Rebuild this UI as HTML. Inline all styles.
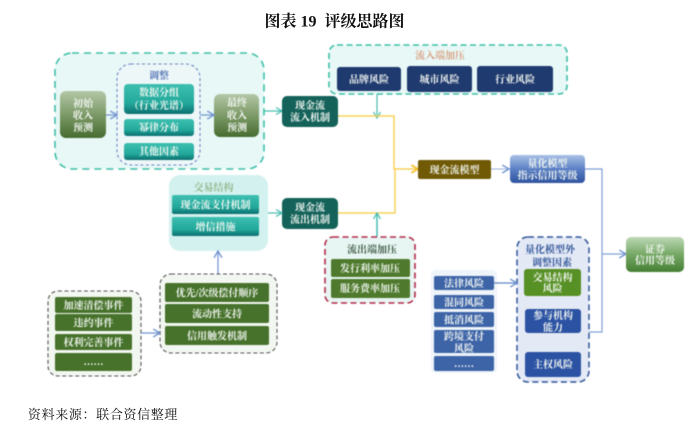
<!DOCTYPE html>
<html><head><meta charset="utf-8"><style>
html,body{margin:0;padding:0;background:#fff;width:700px;height:432px;overflow:hidden}
svg{display:block;position:absolute;left:0;top:0}
text{font-family:"Liberation Serif","Noto Serif CJK SC",serif;text-anchor:middle;font-size:10px;font-weight:700;fill:#f2f7f2}
.d{filter:blur(.45px)}
.k{fill:#111}
</style></head><body>
<svg width="700" height="432" viewBox="0 0 700 432" xmlns="http://www.w3.org/2000/svg">
<defs>
<linearGradient id="teal" x1="0" y1="0" x2="0" y2="1"><stop offset="0" stop-color="#3dbfb0"/><stop offset=".65" stop-color="#22a89b"/><stop offset="1" stop-color="#0b6f70"/></linearGradient>
<linearGradient id="olive" x1="0" y1="0" x2="0" y2="1"><stop offset="0" stop-color="#b3c7a6"/><stop offset=".5" stop-color="#7d9a68"/><stop offset="1" stop-color="#466c30"/></linearGradient>
<linearGradient id="blue" x1="0" y1="0" x2="0" y2="1"><stop offset="0" stop-color="#a9c1e6"/><stop offset=".5" stop-color="#5b80c4"/><stop offset="1" stop-color="#2f539f"/></linearGradient>
<linearGradient id="green" x1="0" y1="0" x2="0" y2="1"><stop offset="0" stop-color="#bcd8b6"/><stop offset=".5" stop-color="#76a865"/><stop offset="1" stop-color="#457f33"/></linearGradient>
<marker id="aT" viewBox="0 0 8 8" refX="7" refY="4" markerWidth="8" markerHeight="8" orient="auto" markerUnits="userSpaceOnUse"><path d="M1 .5L7 4L1 7.5" fill="none" stroke="#45bdb0" stroke-width="1.2"/></marker>
<marker id="aB" viewBox="0 0 8 8" refX="7" refY="4" markerWidth="9" markerHeight="9" orient="auto" markerUnits="userSpaceOnUse"><path d="M1 .5L7 4L1 7.5" fill="none" stroke="#6f93cf" stroke-width="1.2"/></marker>
<marker id="aY" viewBox="0 0 8 8" refX="7" refY="4" markerWidth="9" markerHeight="9" orient="auto" markerUnits="userSpaceOnUse"><path d="M1 .5L7 4L1 7.5" fill="none" stroke="#f5c230" stroke-width="1.6"/></marker>
</defs>

<text x="334.500" y="26.500" class="k" style="font-size:16px">图表 19&#160;&#160;评级思路图</text>
<text x="103" y="419" class="k" style="font-size:13px;font-weight:400;letter-spacing:.65px">资料来源：联合资信整理</text>

<g class="d">
<!-- top-left group -->
<rect x="55" y="53" width="209" height="116" rx="17" fill="#e8f8f6" stroke="#3dbfa8" stroke-width="1.600" stroke-dasharray="7 5"/>
<rect x="117" y="64" width="83" height="101" rx="14" fill="#eef7f8" stroke="#6f87c4" stroke-width="1.100" stroke-dasharray="3 2.500"/>
<text x="159" y="79" style="fill:#5272b5">调整</text>
<rect x="60" y="91" width="46" height="47" rx="6" fill="url(#olive)"/>
<text x="83" y="107">初始</text><text x="83" y="119">收入</text><text x="83" y="131">预测</text>
<rect x="124" y="84" width="70" height="30" rx="4" fill="url(#teal)"/>
<text x="159" y="96">数据分组</text><text x="159" y="109">（行业光谱）</text>
<rect x="124" y="119" width="70" height="17" rx="3" fill="url(#teal)"/><text x="159" y="131">幂律分布</text>
<rect x="124" y="143" width="70" height="17" rx="3" fill="url(#teal)"/><text x="159" y="155">其他因素</text>
<rect x="214" y="94" width="45" height="43" rx="6" fill="url(#olive)"/>
<text x="237" y="106">最终</text><text x="237" y="119">收入</text><text x="237" y="131">预测</text>
<path d="M106 115H117" stroke="#6f93cf" stroke-width="1.200" marker-end="url(#aB)"/>
<path d="M200 115H214" stroke="#6f93cf" stroke-width="1.200" marker-end="url(#aB)"/>
<path d="M264 111H282" stroke="#45bdb0" stroke-width="1.200" marker-end="url(#aT)"/>

<!-- inflow -->
<rect x="329" y="45" width="238" height="49" rx="8" fill="#e8f8f6" stroke="#3dbfa8" stroke-width="1.600" stroke-dasharray="6 3.500"/>
<text x="440" y="59" style="fill:#d9a084">流入端加压</text>
<rect x="337" y="67" width="64" height="24" rx="3" fill="#1f3a6e"/><text x="369" y="83">品牌风险</text>
<rect x="407" y="66" width="65" height="26" rx="3" fill="#1f3a6e"/><text x="439.500" y="83">城市风险</text>
<rect x="477" y="66" width="76" height="26" rx="3" fill="#1f3a6e"/><text x="515" y="83">行业风险</text>
<path d="M377 94V118" stroke="#45bdb0" stroke-width="1.200" marker-end="url(#aT)"/>

<!-- cash flow nodes -->
<path d="M338 116H394V169H418" fill="none" stroke="#f8d25a" stroke-width="1.500" marker-end="url(#aY)"/>
<path d="M338 213H395V169" fill="none" stroke="#f8d25a" stroke-width="1.500"/>
<rect x="282" y="96" width="56" height="31" rx="5" fill="#14625a"/><text x="310" y="109">现金流</text><text x="310" y="121">流入机制</text>
<rect x="282" y="198" width="56" height="31" rx="5" fill="#14625a"/><text x="310" y="211">现金流</text><text x="310" y="223">流出机制</text>
<rect x="418" y="160" width="73" height="19" rx="2" fill="#715a06"/><text x="454.500" y="173.500">现金流模型</text>
<path d="M491 169H509" stroke="#a9bde0" stroke-width="1.300" marker-end="url(#aB)"/>
<rect x="510" y="155" width="75" height="28" rx="4" fill="url(#blue)"/><text x="547.500" y="167">量化模型</text><text x="547.500" y="179">指示信用等级</text>

<!-- right lines -->
<path d="M585 169H602V332H589" fill="none" stroke="#7e9fd4" stroke-width="1.200"/>
<path d="M602 254H626" stroke="#7e9fd4" stroke-width="1.200" marker-end="url(#aB)"/>
<rect x="626" y="237" width="58" height="35" rx="5" fill="url(#green)"/><text x="655" y="253">证券</text><text x="655" y="264">信用等级</text>

<!-- structure -->
<rect x="169" y="175" width="99" height="76" rx="11" fill="#d3f1ef"/>
<text x="213.500" y="191" style="fill:#8fb78a">交易结构</text>
<rect x="172" y="195" width="87" height="19" rx="2" fill="url(#teal)"/><text x="215.500" y="208.500">现金流支付机制</text>
<rect x="172" y="217" width="87" height="19" rx="2" fill="url(#teal)"/><text x="215.500" y="230.500">增信措施</text>
<path d="M268 213H282" stroke="#45bdb0" stroke-width="1.200" marker-end="url(#aT)"/>
<path d="M218 275V251" stroke="#6f93cf" stroke-width="1.200" marker-end="url(#aB)"/>

<!-- dashed green groups -->
<rect x="160" y="274" width="117" height="79" rx="11" fill="#f3f7f1" stroke="#555" stroke-width="1.100" stroke-dasharray="4 2.500"/>
<rect x="165" y="283" width="104" height="19" rx="2" fill="#47722b"/><text x="217" y="296.500">优先/次级偿付顺序</text>
<rect x="165" y="304" width="104" height="19" rx="2" fill="#47722b"/><text x="217" y="317.500">流动性支持</text>
<rect x="165" y="326" width="104" height="19" rx="2" fill="#47722b"/><text x="217" y="339.500">信用触发机制</text>
<rect x="48" y="291" width="93" height="85" rx="10" fill="#f3f7f1" stroke="#555" stroke-width="1.100" stroke-dasharray="4 2.500"/>
<rect x="55" y="297" width="77" height="16" rx="2" fill="#47722b"/><text x="93.500" y="309">加速清偿事件</text>
<rect x="55" y="314" width="77" height="17" rx="2" fill="#47722b"/><text x="93.500" y="326.500">违约事件</text>
<rect x="55" y="334" width="77" height="16" rx="2" fill="#47722b"/><text x="93.500" y="346">权利完善事件</text>
<rect x="55" y="353" width="77" height="18" rx="2" fill="#47722b"/><text x="93.500" y="365">……</text>
<path d="M141 333H160" stroke="#6f93cf" stroke-width="1.200" marker-end="url(#aB)"/>

<!-- outflow -->
<path d="M377 237V213" stroke="#45bdb0" stroke-width="1.500" marker-end="url(#aT)"/>
<rect x="325" y="237" width="90" height="66" rx="8" fill="#e8f6f3" stroke="#b22a4a" stroke-width="1.600" stroke-dasharray="6 3.500"/>
<text x="372" y="253" style="fill:#3f5a45">流出端加压</text>
<rect x="331" y="259" width="79" height="18" rx="2" fill="#4f7a2d"/><text x="370" y="272">发行利率加压</text>
<rect x="331" y="279" width="79" height="19" rx="2" fill="#4f7a2d"/><text x="370" y="292">服务费率加压</text>

<!-- risks -->
<rect x="431" y="270" width="66" height="103" rx="5" fill="#eef4f9"/>
<rect x="434" y="276" width="60" height="14" rx="2" fill="#3e64a8"/><text x="464" y="287">法律风险</text>
<rect x="434" y="295" width="60" height="14" rx="2" fill="#3e64a8"/><text x="464" y="306">混同风险</text>
<rect x="434" y="312" width="60" height="15" rx="2" fill="#3e64a8"/><text x="464" y="323.500">抵消风险</text>
<rect x="434" y="330" width="60" height="23" rx="2" fill="#3e64a8"/><text x="464" y="340">跨境支付</text><text x="464" y="352">风险</text>
<rect x="434" y="356" width="60" height="15" rx="2" fill="#3e64a8"/><text x="464" y="367">……</text>
<rect x="517" y="237" width="72" height="145" rx="11" fill="#e4e9f6" stroke="#2f5597" stroke-width="1.500" stroke-dasharray="6 3.500"/>
<path d="M494 283H517" stroke="#5f86c4" stroke-width="1.300" marker-end="url(#aB)"/>
<text x="550" y="253" style="fill:#2f5597">量化模型外</text><text x="552" y="266" style="fill:#2f5597">调整因素</text>
<rect x="524" y="269" width="57" height="27" rx="3" fill="#579024"/><text x="552.500" y="281">交易结构</text><text x="552.500" y="292">风险</text>
<rect x="525" y="309" width="56" height="24" rx="3" fill="#2b52a3"/><text x="553" y="319">参与机构</text><text x="553" y="331">能力</text>
<rect x="525" y="352" width="56" height="25" rx="3" fill="#2b52a3"/><text x="553" y="368">主权风险</text>
</g>
</svg>
</body></html>
